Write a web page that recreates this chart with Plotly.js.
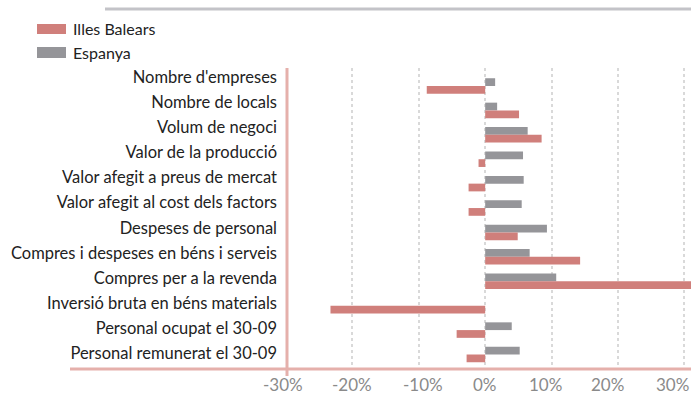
<!DOCTYPE html>
<html>
<head>
<meta charset="utf-8">
<script src="https://cdn.plot.ly/plotly-3.0.1.min.js"></script>
<style>html,body{margin:0;padding:0;background:#fff;}#chart{width:691px;height:401px;}</style>
</head>
<body>
<div id="chart"></div>
<script>
const categories = [
  "Nombre d'empreses",
  "Nombre de locals",
  "Volum de negoci",
  "Valor de la producció",
  "Valor afegit a preus de mercat",
  "Valor afegit al cost dels factors",
  "Despeses de personal",
  "Compres i despeses en béns i serveis",
  "Compres per a la revenda",
  "Inversió bruta en béns materials",
  "Personal ocupat el 30-09",
  "Personal remunerat el 30-09"
];
const espanya = [1.5, 1.8, 6.4, 5.7, 5.8, 5.5, 9.3, 6.7, 10.7, 0, 4.0, 5.2];
const balears = [-8.8, 5.1, 8.5, -1.0, -2.5, -2.5, 4.9, 14.3, 32.5, -23.3, -4.3, -2.8];
const tickVals = [-30, -20, -10, 0, 10, 20, 30];
const tickText = ["-30%", "-20%", "-10%", "0%", "10%", "20%", "30%"];
const seriesNames = ["Illes Balears", "Espanya"];
const colRed = "#d07f7b", colGrey = "#959599";
const catIndex = categories.map((c, i) => i);

const traces = [
  // label anchor for the category axis (draws nothing)
  {type: "scatter", mode: "none", x: espanya, y: catIndex, xaxis: "x", yaxis: "y",
   hoverinfo: "skip", showlegend: false},
  {type: "bar", orientation: "h", name: seriesNames[1], y: categories, x: espanya,
   xaxis: "x", yaxis: "y2", marker: {color: colGrey}, hoverinfo: "x+y"},
  {type: "bar", orientation: "h", name: seriesNames[0], y: categories, x: balears,
   xaxis: "x", yaxis: "y2", marker: {color: colRed}, hoverinfo: "x+y"}
];

const font = "Lato, 'Open Sans', 'DejaVu Sans', sans-serif";
const L = 286, T = 68, W = 405, H = 301;
const px = v => (v - L) / W;
const py = v => (T + H - v) / H;
const tickNudge = [-3, 0, 4, 0, -6, -10, -12];

const tickAnnotations = tickVals.map((v, i) => ({
  xref: "x", yref: "paper", x: v, y: py(384.5), xanchor: "center", yanchor: "middle",
  xshift: tickNudge[i], text: tickText[i], showarrow: false,
  font: {family: font, size: 17, color: "#8a8a8a"}
}));

const layout = {
  width: 691, height: 401,
  margin: {l: L, r: 691 - L - W, t: T, b: 401 - T - H, pad: 0},
  paper_bgcolor: "#fff", plot_bgcolor: "#fff",
  barmode: "group", bargap: 0.365, bargroupgap: 0,
  showlegend: false,
  font: {family: font},
  xaxis: {
    range: [-30, 31], tickvals: tickVals, ticktext: tickText,
    showgrid: true, gridcolor: "#d9d9d9", griddash: "dot", gridwidth: 2,
    zeroline: false, showline: false, ticks: "", showticklabels: false,
    fixedrange: true
  },
  yaxis: {
    range: [11.62, -0.36],
    tickvals: catIndex, ticktext: categories,
    showgrid: false, zeroline: false, showline: false, ticks: "",
    ticklabelstandoff: 8,
    tickfont: {family: font, size: 16.5, color: "#222"}, fixedrange: true
  },
  yaxis2: {
    type: "category", overlaying: "y", side: "left",
    categoryorder: "array", categoryarray: categories,
    range: [11.594, -0.737],
    showticklabels: false, showgrid: false, zeroline: false, showline: false, ticks: "",
    fixedrange: true
  },
  shapes: [
    {type: "line", xref: "paper", yref: "paper", x0: px(105), x1: px(691), y0: py(9), y1: py(9),
     line: {color: "#c3c3c8", width: 3}},
    {type: "line", xref: "paper", yref: "paper", x0: px(70), x1: px(691), y0: py(369), y1: py(369),
     line: {color: "#e5b0ab", width: 3}},
    {type: "line", xref: "paper", yref: "paper", x0: px(287), x1: px(287), y0: py(68), y1: py(376),
     line: {color: "#e5b0ab", width: 3}},
    {type: "rect", xref: "paper", yref: "paper", x0: px(37), x1: px(66), y0: py(24), y1: py(34),
     fillcolor: colRed, line: {width: 0}},
    {type: "rect", xref: "paper", yref: "paper", x0: px(37), x1: px(66), y0: py(47), y1: py(58),
     fillcolor: colGrey, line: {width: 0}}
  ],
  annotations: [
    {xref: "paper", yref: "paper", x: px(71), y: py(29), xanchor: "left", yanchor: "middle",
     text: seriesNames[0], showarrow: false, font: {family: font, size: 16, color: "#222"}},
    {xref: "paper", yref: "paper", x: px(71), y: py(52), xanchor: "left", yanchor: "middle",
     text: seriesNames[1], showarrow: false, font: {family: font, size: 16, color: "#222"}}
  ].concat(tickAnnotations)
};

Plotly.newPlot("chart", traces, layout, {displayModeBar: false, staticPlot: false});
</script>
</body>
</html>
